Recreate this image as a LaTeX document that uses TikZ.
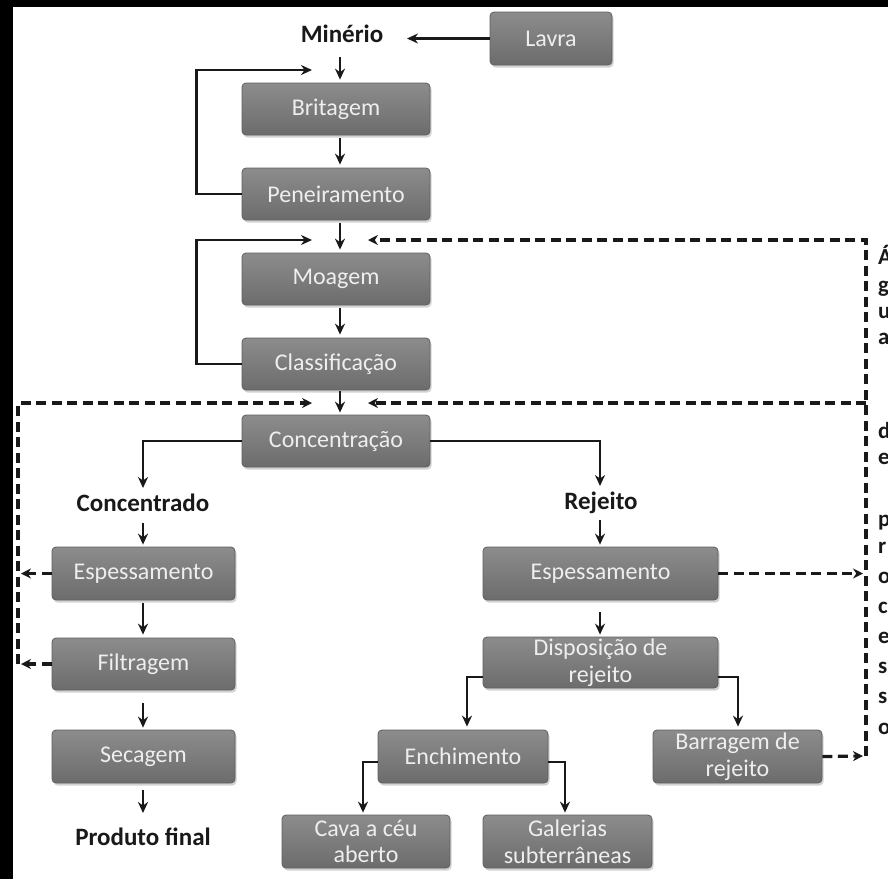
\documentclass[tikz,border=0pt]{standalone}
\usepackage{fontspec}
\setmainfont{Carlito}
\usetikzlibrary{arrows.meta,shadows,calc}
\definecolor{ink}{RGB}{25,25,25}
\definecolor{boxtop}{RGB}{140,140,140}
\definecolor{boxbot}{RGB}{108,108,108}
\definecolor{boxedge}{RGB}{95,95,95}
\definecolor{boxtext}{RGB}{238,238,238}
\newcommand\boxfnt{\fontsize{24}{26.5}\selectfont}
\newcommand\lblfnt{\fontsize{25}{28}\selectfont\bfseries}
\newcommand\vfnt{\fontsize{23}{24}\selectfont\bfseries}
\begin{document}
\begin{tikzpicture}[x=1pt,y=-1pt,
  box/.style={draw=boxedge, line width=0.8pt, top color=boxtop, bottom color=boxbot,
    rounded corners=4pt, text=boxtext, font=\boxfnt, align=center, inner sep=0pt,
    drop shadow={shadow xshift=1.5pt,shadow yshift=-2.5pt,opacity=0.35}},
  lbl/.style={font=\lblfnt, inner sep=0pt, text=ink},
  arr/.style={draw=ink, line width=2.6pt, -{Stealth[length=11pt,width=10pt]}},
  dsh/.style={draw=ink, line width=3.2pt, dash pattern=on 10pt off 5.5pt, -{Stealth[length=10pt,width=10pt]}},
  vlet/.style={font=\vfnt, inner sep=0pt, anchor=base west, text=ink}]
\useasboundingbox (0,0) rectangle (888,879);
\fill[black] (0,0) rectangle (888,879);
\fill[white] (13,7) rectangle (888,879);

% boxes
\node[box, minimum width=122pt, minimum height=53pt] (lavra) at (551,38.5) {Lavra};
\node[lbl] (minerio) at (342,34) {Minério};
\node[box, minimum width=188pt, minimum height=52pt] (brit) at (336,109) {Britagem};
\node[box, minimum width=188pt, minimum height=52pt] (pen) at (336,194) {Peneiramento};
\node[box, minimum width=188pt, minimum height=52pt] (moag) at (336,279) {Moagem};
\node[box, minimum width=188pt, minimum height=52pt] (clas) at (336,364) {Classificação};
\node[box, minimum width=188pt, minimum height=52pt] (conc) at (336,441) {Concentração};
\node[lbl] (concd) at (143,503) {Concentrado};
\node[lbl] (rej) at (601,503) {Rejeito};
\node[box, minimum width=183pt, minimum height=53pt] (espL) at (143.5,573.5) {Espessamento};
\node[box, minimum width=183pt, minimum height=52pt] (filt) at (143.5,664) {Filtragem};
\node[box, minimum width=183pt, minimum height=53pt] (sec) at (143.5,756.5) {Secagem};
\node[lbl] (prod) at (143,837) {Produto final};
\node[box, minimum width=235pt, minimum height=53pt] (espR) at (600.5,573.5) {Espessamento};
\node[box, minimum width=235pt, minimum height=51pt] (disp) at (600.5,662.5) {Disposição de\\rejeito};
\node[box, minimum width=170pt, minimum height=53pt] (ench) at (463,756.5) {Enchimento};
\node[box, minimum width=169pt, minimum height=53pt] (barr) at (737.5,756.5) {Barragem de\\rejeito};
\node[box, minimum width=168pt, minimum height=53pt] (cava) at (366,841.5) {Cava a céu\\aberto};
\node[box, minimum width=169pt, minimum height=53pt] (gal) at (567.5,841.5) {Galerias\\subterrâneas};

% vertical text
\foreach \ch/\yy [count=\i] in {Á/264,g/292,u/318,a/344,d/438,e/464,p/526,r/553,o/583,c/613,e/643,s/673,s/703,o/734}
  \node[vlet] (v\i) at (878,\yy) {\ch};

% free ends
\coordinate (mtip) at (407,38.5);
\coordinate (mdown) at (340,57);
\coordinate (l1tip) at (312,70);
\coordinate (l2tip) at (312,240);
\coordinate (rtop) at (866,240);
\coordinate (rmid) at (866,403);
\coordinate (rbot) at (866,756);
\coordinate (dtipA) at (368,240);
\coordinate (dtipB) at (368,403);
\coordinate (ltop) at (18,403);
\coordinate (lbot) at (18,664);
\coordinate (ltip) at (312,403);
\coordinate (lEtip) at (21,573.5);
\coordinate (lFtip) at (21,664);
\coordinate (espRtip) at (863,573.5);
\coordinate (barrtip) at (863,756);
\coordinate (ctipL) at (143,488);
\coordinate (ctipR) at (600,486);
\coordinate (cdown) at (143,523);
\coordinate (rdown) at (600,520);
\coordinate (pdown) at (143,813);

% main stream
\draw[arr] (lavra.west) -- (mtip);
\draw[arr] (mdown) -- ([xshift=4pt,yshift=3pt]brit.north);
\draw[arr] ([xshift=4pt,yshift=-3pt]brit.south) -- ([xshift=4pt,yshift=3pt]pen.north);
\draw[arr] ([xshift=4pt,yshift=-3pt]pen.south) -- ([xshift=4pt,yshift=3pt]moag.north);
\draw[arr] ([xshift=4pt,yshift=-3pt]moag.south) -- ([xshift=4pt,yshift=3pt]clas.north);
\draw[arr] ([xshift=4pt,yshift=-1pt]clas.south) -- ([xshift=4pt,yshift=2pt]conc.north);
\draw[arr] (pen.west) -- ++(-45,0) |- (l1tip);
\draw[arr] (clas.west) -- ++(-45,0) |- (l2tip);
\draw[arr] (conc.west) -| (ctipL);
\draw[arr] (conc.east) -| (ctipR);
\draw[arr] (cdown) -- ([xshift=-0.5pt,yshift=2pt]espL.north);
\draw[arr] ([xshift=-0.5pt,yshift=-3pt]espL.south) -- ([xshift=-0.5pt,yshift=3pt]filt.north);
\draw[arr] ([xshift=-0.5pt,yshift=-13pt]filt.south) -- ([xshift=-0.5pt,yshift=2pt]sec.north);
\draw[arr] ([xshift=-0.5pt,yshift=-7pt]sec.south) -- (pdown);
\draw[arr] (rdown) -- ([xshift=-0.5pt,yshift=2pt]espR.north);
\draw[arr] ([xshift=-0.5pt,yshift=-12pt]espR.south) -- ([xshift=-0.5pt,yshift=2pt]disp.north);
\draw[arr] ([yshift=-14.5pt]disp.west) -| ([xshift=4pt,yshift=3pt]ench.north);
\draw[arr] ([yshift=-14.5pt]disp.east) -| ([xshift=0.5pt,yshift=3pt]barr.north);
\draw[arr] ([yshift=-5.5pt]ench.west) -| ([xshift=-3pt,yshift=2pt]cava.north);
\draw[arr] ([yshift=-5.5pt]ench.east) -| ([xshift=-2.5pt,yshift=2pt]gal.north);

% water recirculation (dashed)
\draw[dsh] (rbot) -- (rtop) -- (dtipA);
\draw[dsh] (rmid) -- (dtipB);
\draw[dsh] (espR.east) -- (espRtip);
\draw[dsh] (barr.east) -- (barrtip);
\draw[dsh] (lbot) -- (ltop) -- (ltip);
\draw[dsh] (espL.west) -- (lEtip);
\draw[dsh] (filt.west) -- (lFtip);
\end{tikzpicture}
\end{document}
